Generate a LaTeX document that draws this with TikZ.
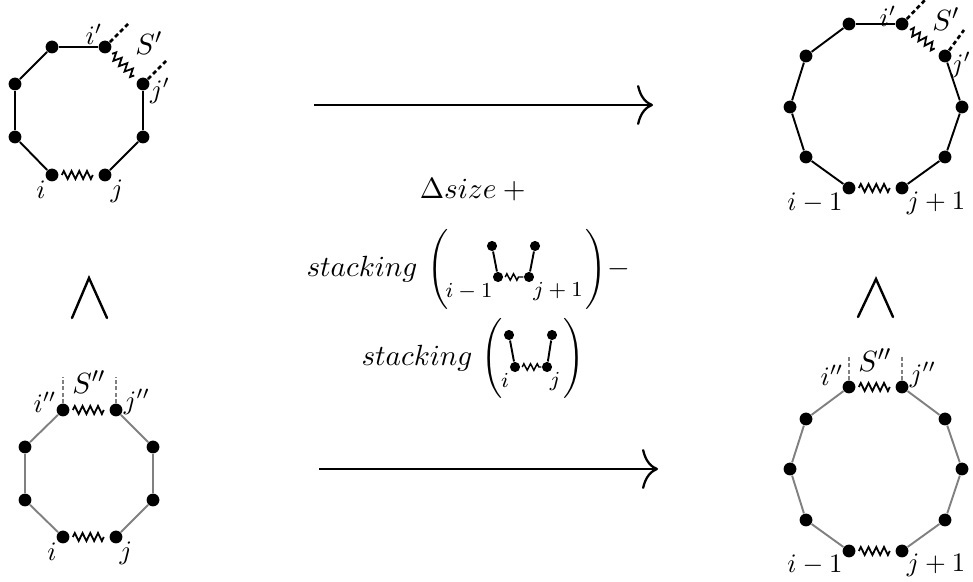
\documentclass[tikz,border=0pt]{standalone}
\usepackage{amsmath}
\usetikzlibrary{arrows.meta, decorations.pathmorphing}

\begin{document}
\begin{tikzpicture}[
    x=0.375pt, y=-0.375pt,
    dot/.style={circle, fill=black, inner sep=0pt, minimum size=4.8pt},
    tinydot/.style={circle, fill=black, inner sep=0pt, minimum size=3.8pt},
    edge/.style={black, line width=0.72pt},
    grayedge/.style={black!50, line width=0.72pt},
    spring/.style={black, line width=0.68pt, decorate,
        decoration={zigzag, segment length=2.9pt, amplitude=1.5pt,
            pre=moveto, pre length=1.1pt, post=moveto, post length=1.1pt}},
    tinyspring/.style={black, line width=0.55pt, decorate,
        decoration={zigzag, segment length=2.5pt, amplitude=1.2pt,
            pre=moveto, pre length=0.6pt, post=moveto, post length=0.6pt}},
    open/.style={black, line width=1pt, dash pattern=on 1.6pt off 1.1pt},
    grayopen/.style={black!50, line width=0.85pt, dash pattern=on 1.5pt off 0.9pt},
    bigarrow/.style={line width=0.85pt, -{Computer Modern Rightarrow[length=6pt, width=15pt]}},
    lessthan/.style={line width=0.9pt, line cap=round, line join=miter},
    biglabel/.style={font=\fontsize{11}{13}\selectfont},
    midlabel/.style={font=\fontsize{11.2}{13}\selectfont},
    tinylabel/.style={font=\footnotesize, inner sep=0pt}
]

\useasboundingbox (0,0) rectangle (973,582);

% -------- Top left ring --------
\foreach \n/\x/\y in {1/52/175, 2/105/175, 3/143/137, 4/143/84, 5/105/47, 6/52/47, 7/15/84, 8/15/137} {
    \node[dot] (a\n) at (\x,\y) {};
}
\foreach \p/\q in {2/3, 3/4, 5/6, 6/7, 7/8, 8/1} {
    \draw[edge] (a\p) -- (a\q);
}
\draw[spring] (a1) -- (a2);
\draw[spring] (a5) -- (a4);
\coordinate (aopen5) at (128,24);
\coordinate (aopen4) at (166,61);
\draw[open] (a5) -- (aopen5);
\draw[open] (a4) -- (aopen4);

\node (ai) at (41,190) {$i$};
\node (aj) at (117,191) {$j$};
\node (aip) at (94,34) {$i'$};
\node (ajp) at (160,91) {$j'$};
\node[biglabel] (as) at (149,43) {$S'$};

% -------- Top right ring --------
\foreach \n/\x/\y in {1/849/188, 2/902/188, 3/945/157, 4/962/107, 5/945/56, 6/902/24, 7/849/24, 8/806/56, 9/790/107, 10/806/157} {
    \node[dot] (b\n) at (\x,\y) {};
}
\foreach \p/\q in {2/3, 3/4, 4/5, 6/7, 7/8, 8/9, 9/10, 10/1} {
    \draw[edge] (b\p) -- (b\q);
}
\draw[spring] (b1) -- (b2);
\draw[spring] (b6) -- (b5);
\coordinate (bopen6) at (926,-1);
\coordinate (bopen5) at (964,30);
\draw[open] (b6) -- (bopen6);
\draw[open] (b5) -- (bopen5);

\node (bi) at (815,203) {$i-1$};
\node (bj) at (936,203) {$j+1$};
\node (bip) at (888,16) {$i'$};
\node (bjp) at (961,65) {$j'$};
\node[biglabel] (bs) at (946,19) {$S'$};

% -------- Bottom left ring --------
\foreach \n/\x/\y in {1/63/537, 2/116/537, 3/153/500, 4/153/447, 5/116/410, 6/63/410, 7/25/447, 8/25/500} {
    \node[dot] (c\n) at (\x,\y) {};
}
\foreach \p/\q in {2/3, 3/4, 4/5, 6/7, 7/8, 8/1} {
    \draw[grayedge] (c\p) -- (c\q);
}
\draw[spring] (c1) -- (c2);
\draw[spring] (c6) -- (c5);
\coordinate (copen6) at (63,377);
\coordinate (copen5) at (116,377);
\draw[grayopen] (c6) -- (copen6);
\draw[grayopen] (c5) -- (copen5);

\node (ci) at (52,552) {$i$};
\node (cj) at (126,553) {$j$};
\node (cip) at (45,402) {$i''$};
\node (cjp) at (137,402) {$j''$};
\node[biglabel] (cs) at (89,382) {$S''$};

% -------- Bottom right ring --------
\foreach \n/\x/\y in {1/849/551, 2/902/551, 3/945/520, 4/962/469, 5/945/419, 6/902/387, 7/849/387, 8/806/419, 9/790/469, 10/806/520} {
    \node[dot] (d\n) at (\x,\y) {};
}
\foreach \p/\q in {2/3, 3/4, 4/5, 5/6, 7/8, 8/9, 9/10, 10/1} {
    \draw[grayedge] (d\p) -- (d\q);
}
\draw[spring] (d1) -- (d2);
\draw[spring] (d7) -- (d6);
\coordinate (dopen7) at (849,355);
\coordinate (dopen6) at (902,355);
\draw[grayopen] (d7) -- (dopen7);
\draw[grayopen] (d6) -- (dopen6);

\node (di) at (815,565) {$i-1$};
\node (dj) at (936,565) {$j+1$};
\node (dip) at (832,375) {$i''$};
\node (djp) at (923,375) {$j''$};
\node[biglabel] (ds) at (875,360) {$S''$};

% -------- Arrows and relations --------
\coordinate (topstart) at (314,105);
\coordinate (topend) at (653,105);
\coordinate (botstart) at (319,469);
\coordinate (botend) at (658,469);
\draw[bigarrow] (topstart) -- (topend);
\draw[bigarrow] (botstart) -- (botend);

\draw[lessthan] (72,318) -- (89,278) -- (107,318);
\draw[lessthan] (858,317) -- (876,279) -- (893,317);

% -------- Middle formula --------
\node[midlabel] (delta) at (476,190) {$\Delta size +{}$};

\node[midlabel] (stackone) at (362,269) {$stacking$};
\node[inner sep=0pt] (lone) at (438,269) {$\Bigg($};
\node[inner sep=0pt] (rone) at (596,269) {$\Bigg)$};
\node[midlabel] (minus) at (619,269) {$-$};
\foreach \n/\x/\y in {1/498/277, 2/529/277, 3/492/246, 4/535/246} {
    \node[tinydot] (e\n) at (\x,\y) {};
}
\draw[edge] (e1) -- (e3);
\draw[edge] (e2) -- (e4);
\draw[tinyspring] (e1) -- (e2);
\node[tinylabel] (ei) at (469,292) {$i-1$};
\node[tinylabel] (ej) at (558,292) {$j+1$};

\node[midlabel] (stacktwo) at (417,358) {$stacking$};
\node[inner sep=0pt] (ltwo) at (492,358) {$\Bigg($};
\node[inner sep=0pt] (rtwo) at (574,358) {$\Bigg)$};
\foreach \n/\x/\y in {1/515/367, 2/547/367, 3/509/335, 4/552/335} {
    \node[tinydot] (f\n) at (\x,\y) {};
}
\draw[edge] (f1) -- (f3);
\draw[edge] (f2) -- (f4);
\draw[tinyspring] (f1) -- (f2);
\node[tinylabel] (fi) at (505,380) {$i$};
\node[tinylabel] (fj) at (555,382) {$j$};

\end{tikzpicture}
\end{document}
